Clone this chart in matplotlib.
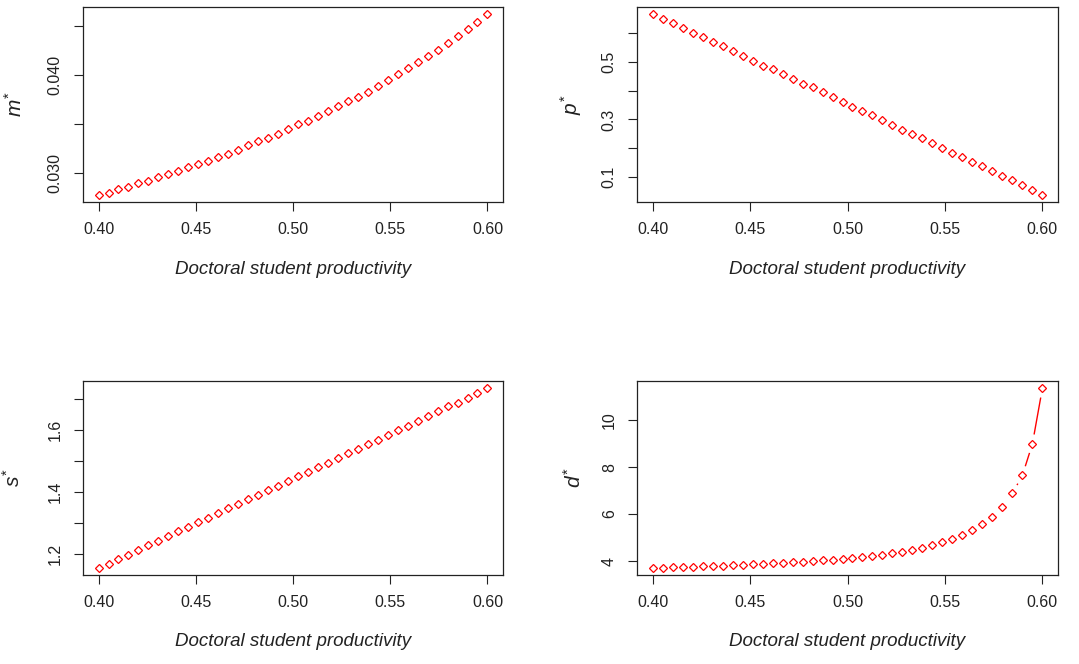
import matplotlib
matplotlib.use("Agg")
import matplotlib.pyplot as plt
import numpy as np

plt.rcParams['font.family'] = ['Liberation Sans', 'DejaVu Sans']
plt.rcParams['mathtext.fontset'] = 'custom'
plt.rcParams['mathtext.it'] = 'Liberation Sans:italic'
plt.rcParams['mathtext.rm'] = 'Liberation Sans'

# 40 valeurs de productivité entre 0.40 et 0.60
productivite = np.linspace(0.40, 0.60, 40)

m_star = [0.02775, 0.02795, 0.02830, 0.02857, 0.02892, 0.02918, 0.02955, 0.02985,
          0.03020, 0.03057, 0.03094, 0.03122, 0.03158, 0.03195, 0.03232, 0.03278,
          0.03320, 0.03358, 0.03395, 0.03444, 0.03494, 0.03532, 0.03580, 0.03630,
          0.03678, 0.03730, 0.03778, 0.03829, 0.03890, 0.03942, 0.04003, 0.04066,
          0.04126, 0.04190, 0.04256, 0.04326, 0.04392, 0.04467, 0.04542, 0.04618]

p_star = [0.667, 0.650, 0.637, 0.619, 0.602, 0.586, 0.569, 0.556, 0.540, 0.522,
          0.505, 0.488, 0.476, 0.458, 0.441, 0.424, 0.412, 0.394, 0.378, 0.360,
          0.344, 0.331, 0.314, 0.298, 0.280, 0.263, 0.250, 0.234, 0.216, 0.199,
          0.183, 0.170, 0.152, 0.136, 0.119, 0.102, 0.090, 0.072, 0.055, 0.037]

s_star = [1.155, 1.167, 1.182, 1.198, 1.213, 1.229, 1.242, 1.257, 1.273, 1.288,
          1.303, 1.317, 1.331, 1.347, 1.362, 1.378, 1.391, 1.406, 1.421, 1.437,
          1.452, 1.465, 1.480, 1.495, 1.511, 1.527, 1.540, 1.555, 1.570, 1.586,
          1.601, 1.614, 1.630, 1.645, 1.661, 1.677, 1.689, 1.704, 1.720, 1.736]

d_star = [3.71, 3.72, 3.73, 3.74, 3.75, 3.77, 3.78, 3.80, 3.82, 3.84,
          3.86, 3.88, 3.90, 3.92, 3.94, 3.97, 4.00, 4.03, 4.06, 4.09,
          4.12, 4.16, 4.21, 4.26, 4.32, 4.39, 4.47, 4.57, 4.68, 4.80,
          4.95, 5.12, 5.32, 5.57, 5.89, 6.31, 6.88, 7.65, 8.99, 11.36]

x_ticks = [0.40, 0.45, 0.50, 0.55, 0.60]
x_tick_labels = ['0.40', '0.45', '0.50', '0.55', '0.60']

m_ticks = [0.030, 0.035, 0.040, 0.045]
m_tick_labels = ['0.030', '', '0.040', '']
p_ticks = [0.1, 0.2, 0.3, 0.4, 0.5, 0.6]
p_tick_labels = ['0.1', '', '0.3', '', '0.5', '']
s_ticks = [1.2, 1.3, 1.4, 1.5, 1.6, 1.7]
s_tick_labels = ['1.2', '', '1.4', '', '1.6', '']
d_ticks = [4, 6, 8, 10]
d_tick_labels = ['4', '6', '8', '10']

W, H = 1079, 664
fig = plt.figure(figsize=(W / 100, H / 100), dpi=100)


def axe_px(left, top, right, bottom):
    return fig.add_axes([left / W, 1 - bottom / H, (right - left) / W, (bottom - top) / H])


def lims_r(v):
    # étendue à la R (4 % de chaque côté)
    lo, hi = min(v), max(v)
    r = hi - lo
    return lo - 0.04 * r, hi + 0.04 * r


def trace_b(ax, x, y, gap=9.5):
    # équivalent de type="b" : lignes interrompues autour des points
    pts = ax.transData.transform(np.column_stack([x, y]))
    inv = ax.transData.inverted()
    for i in range(len(pts) - 1):
        a, b = pts[i], pts[i + 1]
        d = b - a
        L = np.hypot(d[0], d[1])
        if L > 2 * gap:
            u = d / L
            seg = inv.transform(np.array([a + u * gap, b - u * gap]))
            ax.plot(seg[:, 0], seg[:, 1], color='red', lw=1.0, solid_capstyle='butt')
    ax.plot(x, y, linestyle='none', marker='D', ms=3.8, mfc='none', mec='red', mew=0.9)


def habillage(ax, y, yticks, ylabels, ylab, xlab_pos):
    ax.set_xlim(lims_r(productivite))
    ax.set_ylim(lims_r(y))
    ax.set_xticks(x_ticks)
    ax.set_xticklabels(x_tick_labels)
    ax.set_yticks(yticks)
    ax.set_yticklabels(ylabels, rotation=90, va='center')
    ax.tick_params(axis='both', direction='out', length=6.5, width=0.8,
                   labelsize=11.5, colors='#222222', pad=8)
    for sp in ax.spines.values():
        sp.set_linewidth(0.9)
        sp.set_color('#222222')
    ax.set_xlabel('Doctoral student productivity', fontsize=13.5, style='italic', color='#222222')
    ax.xaxis.set_label_coords(0.5, -0.30)
    ax.set_ylabel(ylab, fontsize=15, color='#222222')
    ax.yaxis.set_label_coords(xlab_pos, 0.5)


ax1 = axe_px(83, 7, 503, 202)
ax2 = axe_px(637, 7, 1058, 202)
ax3 = axe_px(83, 381, 503, 575)
ax4 = axe_px(637, 381, 1058, 575)

panneaux = [
    (ax1, m_star, m_ticks, m_tick_labels, r'$m^{*}$', -0.135),
    (ax2, p_star, p_ticks, p_tick_labels, r'$p^{*}$', -0.125),
    (ax3, s_star, s_ticks, s_tick_labels, r'$s^{*}$', -0.14),
    (ax4, d_star, d_ticks, d_tick_labels, r'$d^{*}$', -0.125),
]

for ax, y, yt, yl, lab, pos in panneaux:
    habillage(ax, y, yt, yl, lab, pos)
    trace_b(ax, productivite, y)

plt.savefig('out.png', dpi=100)
plt.close()
